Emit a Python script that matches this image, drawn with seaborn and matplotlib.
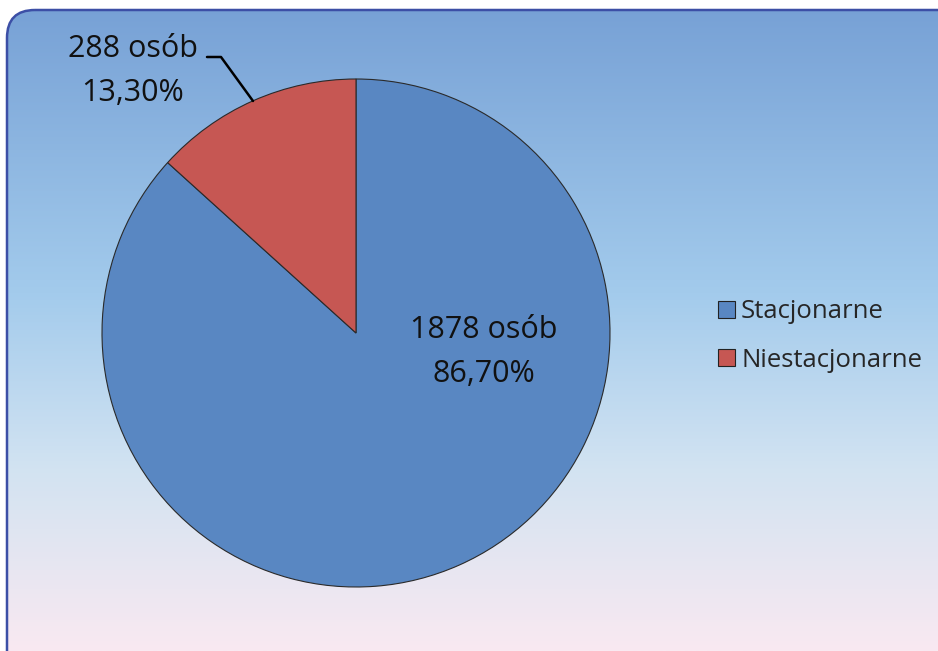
import numpy as np
import matplotlib
matplotlib.use("Agg")
import matplotlib.pyplot as plt
from matplotlib.patches import FancyBboxPatch, Patch
from matplotlib.colors import LinearSegmentedColormap
import seaborn as sns

categories = ["Stacjonarne", "Niestacjonarne"]
counts = [1878, 288]
colors = ["#5987C2", "#C65753"]

sns.set_theme(style="white")
plt.rcParams['font.family'] = ['Open Sans', 'DejaVu Sans']

W, H = 938, 651
fig = plt.figure(figsize=(W / 100, H / 100), dpi=100)
fig.patch.set_facecolor("white")

# background with gradient inside rounded frame
bg = fig.add_axes([0, 0, 1, 1])
bg.set_xlim(0, W)
bg.set_ylim(H, 0)
bg.axis("off")
cmap = LinearSegmentedColormap.from_list(
    "bg", [(0.0, "#76A0D5"), (0.45, "#A3CBEC"), (0.72, "#D2E3F2"), (1.0, "#F9E9F1")])
grad = np.linspace(0, 1, 256).reshape(-1, 1)
im = bg.imshow(grad, cmap=cmap, extent=[0, W, H, 0], aspect="auto", zorder=0)
frame = FancyBboxPatch((7, 10), W + 40, H + 40,
                       boxstyle="round,pad=0,rounding_size=28",
                       facecolor="none", edgecolor="#3C4FA6", linewidth=1.8, zorder=2)
bg.add_patch(frame)
im.set_clip_path(frame)

# pie axes: full figure, radius 1 == 254 px, centre at pixel (356, 333)
R = 254.0
cx, cy = 356.0, 333.0
ax = fig.add_axes([0, 0, 1, 1])
ax.patch.set_alpha(0)
wedges, _ = ax.pie(counts, colors=colors, startangle=90, counterclock=False,
                   wedgeprops=dict(edgecolor="#2a2a2a", linewidth=0.8))
ax.set_xlim(-cx / R, (W - cx) / R)
ax.set_ylim(-(H - cy) / R, cy / R)
ax.set_aspect("auto")
ax.axis("off")

def px(x, y):
    return ((x - cx) / R, (cy - y) / R)

total = sum(counts)
labels = [f"{c} osób\n{100 * c / total:.2f}%".replace(".", ",") for c in counts]

ax.text(*px(484, 352), labels[0], ha="center", va="center", fontsize=22,
        color="#111111", linespacing=1.6)
ax.text(*px(133, 71), labels[1], ha="center", va="center", fontsize=22,
        color="#111111", linespacing=1.6)
xs, ys = zip(px(207, 57), px(221, 57), px(253, 101))
ax.plot(xs, ys, color="black", linewidth=1.8)

handles = [Patch(facecolor=c, edgecolor="#222222", linewidth=0.8) for c in colors]
leg = fig.legend(handles, categories, loc="center left",
                 bbox_to_anchor=(700 / W, 1 - 336 / H), frameon=False,
                 fontsize=18.5, handlelength=0.65, handleheight=0.65,
                 handletextpad=0.25, labelspacing=0.9, borderpad=0.2)

fig.savefig("out.png", dpi=100)
